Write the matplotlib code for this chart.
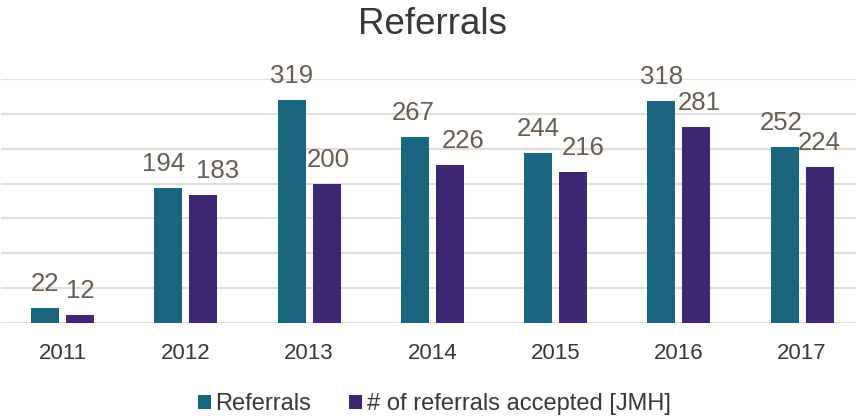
import numpy as np
import matplotlib.pyplot as plt

years = ['2011', '2012', '2013', '2014', '2015', '2016', '2017']
referrals = [22, 194, 319, 267, 244, 318, 252]
accepted = [12, 183, 200, 226, 216, 281, 224]
series_names = ['Referrals', '# of referrals accepted [JMH]']

# label nudges in px (excel moved some labels sideways)
ref_dx = [0, -5, 0, -2, 0, 0, -3]
acc_dx = [0, 14, 2, 13, 10, 3, 0]

plt.rcParams['font.family'] = ['Liberation Sans', 'DejaVu Sans']

teal = '#1a6680'
purple = '#3d2672'
label_col = '#675c54'
text_col = '#3a3633'

fig = plt.figure(figsize=(8.56, 4.16), dpi=100)
ax = fig.add_axes([0.001, 0.2228, 1.008, 0.588])

x = np.arange(len(years))
w = 0.227
off = 0.142
b1 = ax.bar(x - off, referrals, w, color=teal, label=series_names[0], zorder=3)
b2 = ax.bar(x + off, accepted, w, color=purple, label=series_names[1], zorder=3)

for bars, dxs in ((b1, ref_dx), (b2, acc_dx)):
    for r, dx in zip(bars, dxs):
        ax.annotate(str(int(r.get_height())), (r.get_x() + r.get_width() / 2, r.get_height()),
                    xytext=(dx * 0.72, 12.2), textcoords='offset points', ha='center', va='baseline',
                    fontsize=18.5, color=label_col, annotation_clip=False)

ax.set_xlim(-0.5, len(years) - 0.5)
ax.set_ylim(0, 350)
ax.set_yticks(np.arange(0, 351, 50))
ax.yaxis.grid(True, color='#e3dedb', linewidth=1.5, zorder=0)
ax.set_yticklabels([])
ax.tick_params(axis='y', length=0)
ax.set_xticks(x)
ax.set_xticklabels(years, fontsize=16, color=text_col)
ax.tick_params(axis='x', length=0, pad=14)
for s in ax.spines.values():
    s.set_visible(False)

fig.text(0.505, 0.94, 'Referrals', ha='center', va='center', fontsize=26.5, color=text_col)

fig.legend(loc='center', bbox_to_anchor=(0.507, 0.028), ncol=2, frameon=False,
           fontsize=17, handlelength=0.55, handleheight=0.55, handletextpad=0.2,
           columnspacing=1.6, labelcolor=text_col, borderpad=0)

fig.savefig('out.png', dpi=100)
